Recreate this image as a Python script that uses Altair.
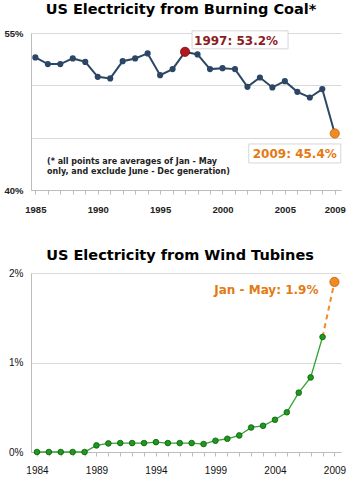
import altair as alt
import pandas as pd

# ---------------- data ----------------
years_coal = [1985, 1986, 1987, 1988, 1989, 1990, 1991, 1992, 1993, 1994, 1995, 1996,
              1997, 1998, 1999, 2000, 2001, 2002, 2003, 2004, 2005, 2006, 2007, 2008, 2009]
coal_pct = [52.67, 52.03, 52.03, 52.57, 52.24, 50.81, 50.66, 52.31, 52.57, 53.05, 50.97, 51.55,
            53.2, 52.95, 51.55, 51.64, 51.55, 49.86, 50.75, 49.8, 50.4, 49.38, 48.84, 49.64, 45.4]
coal_tick_labels = [1985, 1990, 1995, 2000, 2005, 2009]

years_wind = [1984, 1985, 1986, 1987, 1988, 1989, 1990, 1991, 1992, 1993, 1994, 1995, 1996,
              1997, 1998, 1999, 2000, 2001, 2002, 2003, 2004, 2005, 2006, 2007, 2008, 2009]
wind_pct = [0.0, 0.0, 0.0, 0.0, 0.0, 0.074, 0.096, 0.10, 0.10, 0.10, 0.11, 0.10, 0.10,
            0.10, 0.089, 0.126, 0.148, 0.185, 0.274, 0.293, 0.36, 0.444, 0.663, 0.833, 1.285, 1.9]
wind_tick_labels = [1984, 1989, 1994, 1999, 2004, 2009]

note_lines = ["(* all points are averages of Jan - May", "only,  and exclude June - Dec generation)"]

coal_df = pd.DataFrame({"year": years_coal, "pct": coal_pct})
peak_df = coal_df[coal_df.year == 1997].copy()
peak_df["label"] = peak_df.apply(lambda r: f"{int(r.year)}: {r.pct:.1f}%", axis=1)
last_df = coal_df[coal_df.year == 2009].copy()
last_df["label"] = last_df.apply(lambda r: f"{int(r.year)}: {r.pct:.1f}%", axis=1)
one_row = pd.DataFrame({"k": [0]})

wind_df = pd.DataFrame({"year": years_wind, "pct": wind_pct})
wind_solid = wind_df[wind_df.year <= 2008]
wind_dash = wind_df[wind_df.year >= 2008]
wind_last = wind_df[wind_df.year == 2009].copy()
wind_last["label"] = wind_last.apply(lambda r: f"Jan - May: {r.pct:.1f}%", axis=1)

NAVY = "#2c4766"
RED = "#b3161c"
DARKRED = "#8c1c1c"
ORANGE = "#f08a22"
ORANGE_TXT = "#e37a12"
GREEN = "#34a234"

# ---------------- coal chart ----------------
def cx():
    return alt.X(
        "year:Q",
        scale=alt.Scale(domain=[1984.65, 2009.5], nice=False, zero=False),
        axis=alt.Axis(
            title=None, values=years_coal, format="d", grid=False,
            labelExpr=f"indexof({coal_tick_labels}, datum.value) >= 0 ? datum.label : ''",
            labelOverlap=False, labelFontWeight="bold", tickSize=4, labelPadding=10,
            labelFlush=False,
        ),
    )


def cy():
    return alt.Y(
        "pct:Q",
        scale=alt.Scale(domain=[40, 55], nice=False, zero=False),
        axis=alt.Axis(
            title=None, values=[40, 45, 50, 55], grid=True, tickSize=0, labelPadding=8,
            labelExpr="datum.value == 40 || datum.value == 55 ? datum.value + '%' : ''",
            labelFontWeight="bold", minExtent=29, maxExtent=29,
        ),
    )


coal_line = alt.Chart(coal_df).mark_line(color=NAVY, strokeWidth=2).encode(x=cx(), y=cy())
coal_pts = alt.Chart(coal_df).mark_circle(size=38, color=NAVY, opacity=1).encode(x=cx(), y=cy())
peak_pt = alt.Chart(peak_df).mark_circle(size=85, color=RED, stroke="#6e0b0b", strokeWidth=0.8,
                                         opacity=1).encode(x=cx(), y=cy())
peak_box = alt.Chart(peak_df).mark_rect(width=96, height=18, xOffset=55, yOffset=-12,
                                        fill="white", stroke="#d6d6d6", strokeWidth=1).encode(x=cx(), y=cy())
peak_txt = alt.Chart(peak_df).mark_text(dx=51, dy=-11, font="DejaVu Sans", fontSize=12,
                                        fontWeight="bold", color=DARKRED).encode(x=cx(), y=cy(), text="label:N")
last_pt = alt.Chart(last_df).mark_circle(size=85, color=ORANGE, stroke="#c0620c", strokeWidth=0.8,
                                         opacity=1).encode(x=cx(), y=cy())
last_box = alt.Chart(last_df).mark_rect(width=92, height=19, xOffset=-40, yOffset=20,
                                        fill="white", stroke="#d6d6d6", strokeWidth=1).encode(x=cx(), y=cy())
last_txt = alt.Chart(last_df).mark_text(dx=-40, dy=21, font="DejaVu Sans", fontSize=12,
                                        fontWeight="bold", color=ORANGE_TXT).encode(x=cx(), y=cy(), text="label:N")
note1 = alt.Chart(one_row).mark_text(align="left", baseline="middle", font="DejaVu Sans", fontSize=8,
                                     fontWeight="bold", color="#222").encode(
    x=alt.value(16), y=alt.value(129), text=alt.value(note_lines[0]))
note2 = alt.Chart(one_row).mark_text(align="left", baseline="middle", font="DejaVu Sans", fontSize=8,
                                     fontWeight="bold", color="#222").encode(
    x=alt.value(16), y=alt.value(139), text=alt.value(note_lines[1]))

coal_chart = alt.layer(
    coal_line, coal_pts, peak_box, peak_txt, peak_pt, last_box, last_txt, last_pt, note1, note2
).properties(
    width=310, height=157,
    title=alt.TitleParams("US Electricity from Burning Coal*", font="DejaVu Sans", fontSize=14.5,
                          fontWeight="bold", color="black", anchor="middle", offset=11, dx=-5),
)

# ---------------- wind chart ----------------
def wx():
    return alt.X(
        "year:Q",
        scale=alt.Scale(domain=[1983.5, 2009.55], nice=False, zero=False),
        axis=alt.Axis(
            title=None, values=years_wind, format="d", grid=False,
            labelExpr=f"indexof({wind_tick_labels}, datum.value) >= 0 ? datum.label : ''",
            labelOverlap=False, tickSize=4, labelPadding=9, labelFlush=False,
            labelFontSize=10, labelColor="#111",
        ),
    )


def wy():
    return alt.Y(
        "pct:Q",
        scale=alt.Scale(domain=[0, 2], nice=False, zero=False),
        axis=alt.Axis(
            title=None, values=[0, 1, 2], grid=True, tickSize=0, labelPadding=8,
            labelExpr="datum.value + '%'", minExtent=29, maxExtent=29,
            labelFontSize=10, labelColor="#111",
        ),
    )


wind_line = alt.Chart(wind_solid).mark_line(color=GREEN, strokeWidth=1.3).encode(x=wx(), y=wy())
wind_dash_line = alt.Chart(wind_dash).mark_line(color=ORANGE, strokeWidth=2, strokeDash=[5, 4]).encode(x=wx(), y=wy())
wind_pts = alt.Chart(wind_solid).mark_circle(size=32, color="#1c9a1c", stroke="#0b5a0b", strokeWidth=0.8,
                                             opacity=1).encode(x=wx(), y=wy())
wind_last_pt = alt.Chart(wind_last).mark_circle(size=85, color=ORANGE, stroke="#c0620c", strokeWidth=0.8,
                                                opacity=1).encode(x=wx(), y=wy())
wind_txt = alt.Chart(wind_last).mark_text(align="right", dx=-16, dy=8, font="DejaVu Sans", fontSize=12,
                                          fontWeight="bold", color=ORANGE_TXT).encode(x=wx(), y=wy(), text="label:N")

wind_chart = alt.layer(
    wind_line, wind_dash_line, wind_pts, wind_last_pt, wind_txt
).properties(
    width=310, height=179,
    title=alt.TitleParams("US Electricity from Wind Tubines", font="DejaVu Sans", fontSize=14.5,
                          fontWeight="bold", color="black", anchor="middle", offset=5, dx=-6),
)

chart = alt.vconcat(coal_chart, wind_chart, spacing=33).properties(
    padding={"left": 2, "top": 1, "right": 0, "bottom": 0}
).configure_view(stroke=None).configure_axis(
    labelFont="Liberation Sans", labelFontSize=9.5, labelColor="#222",
    domainColor="#bdbdbd", tickColor="#bdbdbd", gridColor="#d9d9d9",
)

chart.save("out.html", embed_options={"renderer": "svg", "actions": False})
